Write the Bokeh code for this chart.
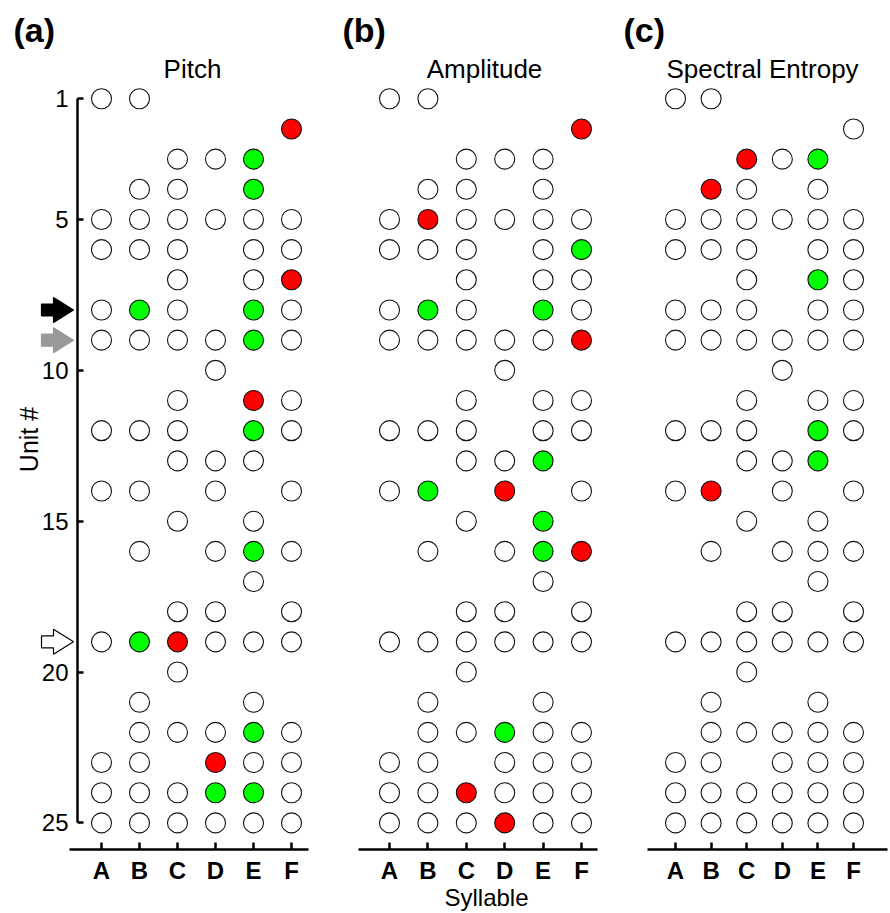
import math
from bokeh.plotting import figure
from bokeh.layouts import row
from bokeh.models import Range1d, FixedTicker, Label, ColumnDataSource, LinearAxis
from bokeh.embed import file_html
from bokeh.resources import INLINE

# ---------------- data ----------------
syllables = ["A", "B", "C", "D", "E", "F"]
# syllables each unit (1..25) was recorded for
unit_syllables = ["AB", "F", "CDE", "BCE", "ABCDEF", "ABCEF", "CEF", "ABCEF", "ABCDEF", "D",
                  "CEF", "ABCEF", "CDE", "ABDF", "CE", "BDEF", "E", "CDF", "ABCDEF", "C",
                  "BE", "BCDEF", "ABDEF", "ABCDEF", "ABCDEF"]
unit_ticks = [1, 5, 10, 15, 20, 25]

panel_titles = ["Pitch", "Amplitude", "Spectral Entropy"]
panel_letters = ["(a)", "(b)", "(c)"]

pitch_red = [(2, "F"), (7, "F"), (11, "E"), (19, "C"), (23, "D")]
pitch_green = [(3, "E"), (4, "E"), (8, "B"), (8, "E"), (9, "E"), (12, "E"), (16, "E"),
               (19, "B"), (22, "E"), (24, "D"), (24, "E")]
amp_red = [(2, "F"), (5, "B"), (9, "F"), (14, "D"), (16, "F"), (24, "C"), (25, "D")]
amp_green = [(6, "F"), (8, "B"), (8, "E"), (13, "E"), (14, "B"), (15, "E"), (16, "E"), (22, "D")]
ent_red = [(3, "C"), (4, "B"), (14, "B")]
ent_green = [(3, "E"), (7, "E"), (12, "E"), (13, "E")]

arrow_units = [8, 9, 19]
arrow_fill = ["black", "#999999", "white"]
arrow_line = ["black", "#999999", "black"]

RED = "#FF0000"
GREEN = "#00FF00"
FONT = "Liberation Sans"

# ---------------- layout constants (pixels) ----------------
H = 912
ROW1_PX = 98.3      # pixel row of unit 1
ROW_PX = 30.17      # pixels per unit
XAXIS_PX = 849.3    # pixel row of the syllable axis

panels = [
    dict(width=320, a_px=101, ppu=38.0, axis=(69, 308), yaxis_px=77,
         red=pitch_red, green=pitch_green, letter_px=13, title_px=192),
    dict(width=295, a_px=69, ppu=38.4, axis=(38, 277), yaxis_px=None,
         red=amp_red, green=amp_green, letter_px=22, title_px=164),
    dict(width=274, a_px=60, ppu=35.6, axis=(32, 272), yaxis_px=None,
         red=ent_red, green=ent_green, letter_px=8, title_px=147),
]


def Y(py):
    return 1 + (py - ROW1_PX) / ROW_PX


figs = []
for i, pdef in enumerate(panels):
    def X(px, pdef=pdef):
        return 1 + (px - pdef["a_px"]) / pdef["ppu"]

    p = figure(width=pdef["width"], height=H, output_backend="svg", toolbar_location=None,
               x_range=Range1d(X(0), X(pdef["width"])), y_range=Range1d(Y(H), Y(0)),
               min_border=0, x_axis_location=None, y_axis_location=None, title=None)
    p.outline_line_color = None
    p.xgrid.visible = False
    p.ygrid.visible = False
    p.background_fill_color = "white"
    p.border_fill_color = "white"

    # syllable axis
    xa = LinearAxis(fixed_location=Y(XAXIS_PX), bounds=(X(pdef["axis"][0]), X(pdef["axis"][1])))
    xa.ticker = FixedTicker(ticks=list(range(1, len(syllables) + 1)))
    xa.major_label_overrides = {k + 1: s for k, s in enumerate(syllables)}
    xa.major_label_text_font = FONT
    xa.major_label_text_font_size = "24px"
    xa.major_label_text_font_style = "bold"
    xa.major_label_text_color = "black"
    xa.major_label_standoff = 7
    xa.axis_line_width = 2.5
    xa.axis_line_color = "black"
    xa.major_tick_in = 7
    xa.major_tick_out = 0
    xa.major_tick_line_width = 2.5
    xa.major_tick_line_color = "black"
    xa.minor_tick_line_color = None
    p.add_layout(xa, "below")

    if pdef["yaxis_px"] is not None:
        ya = LinearAxis(fixed_location=X(pdef["yaxis_px"]), bounds=(1, 25))
        ya.ticker = FixedTicker(ticks=unit_ticks)
        ya.major_label_text_font = FONT
        ya.major_label_text_font_size = "24px"
        ya.major_label_text_color = "black"
        ya.major_label_standoff = 9
        ya.axis_line_width = 2.5
        ya.axis_line_color = "black"
        ya.major_tick_in = 6
        ya.major_tick_out = 0
        ya.major_tick_line_width = 2.5
        ya.major_tick_line_color = "black"
        ya.minor_tick_line_color = None
        p.add_layout(ya, "left")

    # circles
    red_set = set(pdef["red"])
    green_set = set(pdef["green"])
    xs, ys, fills = [], [], []
    for u, syls in enumerate(unit_syllables, start=1):
        for s in syls:
            xs.append(syllables.index(s) + 1)
            ys.append(u)
            if (u, s) in red_set:
                fills.append(RED)
            elif (u, s) in green_set:
                fills.append(GREEN)
            else:
                fills.append("white")
    src = ColumnDataSource(dict(x=xs, y=ys, fill=fills))
    p.scatter("x", "y", source=src, marker="circle", size=20, fill_color="fill",
              line_color="#111111", line_width=1.1)

    # panel letter and title
    p.add_layout(Label(x=X(pdef["letter_px"]), y=Y(29), text=panel_letters[i], text_font=FONT,
                       text_font_size="34px", text_font_style="bold", text_baseline="middle",
                       text_align="left", text_color="black"))
    p.add_layout(Label(x=X(pdef["title_px"]), y=Y(68), text=panel_titles[i], text_font=FONT,
                       text_font_size="26px", text_baseline="middle",
                       text_align="center", text_color="black"))

    if i == 0:
        p.add_layout(Label(x=X(28), y=Y(439), text="Unit #", angle=math.pi / 2, text_font=FONT,
                           text_font_size="25px", text_align="center", text_baseline="middle",
                           text_color="black"))
        # arrows pointing at units
        bxs, bys = [], []
        for u in arrow_units:
            yc = ROW1_PX + (u - 1) * ROW_PX
            bxs.append([X(41), X(53), X(53), X(73), X(53), X(53), X(41)])
            bys.append([Y(yc - 6), Y(yc - 6), Y(yc - 12.5), Y(yc), Y(yc + 12.5), Y(yc + 6), Y(yc + 6)])
        asrc = ColumnDataSource(dict(xs=bxs, ys=bys, fill=arrow_fill, line=arrow_line))
        p.patches("xs", "ys", source=asrc, fill_color="fill", line_color="line", line_width=1.2)
    if i == 1:
        p.add_layout(Label(x=X(486 - 320), y=Y(897), text="Syllable", text_font=FONT,
                           text_font_size="24px", text_align="center", text_baseline="middle",
                           text_color="black"))
    figs.append(p)

layout = row(*figs)
open("out.html", "w").write(file_html(layout, INLINE))
